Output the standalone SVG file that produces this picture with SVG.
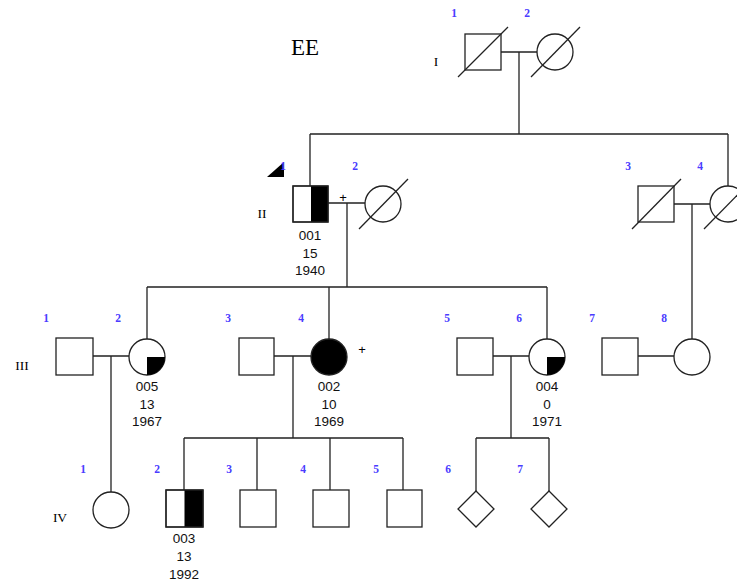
<svg xmlns="http://www.w3.org/2000/svg" width="737" height="587" viewBox="0 0 737 587">
<style>
.s{fill:#fff;stroke:#222;stroke-width:1.3}
.f{fill:#000;stroke:none}
.sl{stroke:#222;stroke-width:1.3;fill:none}
.c{stroke:#222;stroke-width:1.3;fill:none}
.n{font-family:"Liberation Serif",serif;font-size:11.5px;font-weight:bold;fill:#4a3cff;text-anchor:middle}
.g{font-family:"Liberation Serif",serif;font-size:13.5px;fill:#000;text-anchor:middle}
.t{font-family:"Liberation Sans",Arial,sans-serif;font-size:13.5px;fill:#111;text-anchor:middle}
.p{font-family:"Liberation Sans",Arial,sans-serif;font-size:13px;fill:#000;text-anchor:middle}
</style>
<rect width="737" height="587" fill="#fff"/>
<text x="305" y="55" font-family="Liberation Serif,serif" font-size="23" text-anchor="middle">EE</text>
<g id="gen-labels">
<text class="g" x="436" y="66">I</text>
<text class="g" x="262" y="218">II</text>
<text class="g" x="22" y="370">III</text>
<text class="g" x="60" y="522">IV</text>
</g>
<g id="connectors">
<path class="c" d="M500 52H537M519 52V134M310 134H728M310 134V186M728 134V186"/>
<path class="c" d="M328 203H365M347 203V287M147 287H547M147 287V339M329 287V339M547 287V339"/>
<path class="c" d="M674 204H710M692 204V339"/>
<path class="c" d="M93 356H129M111 356V492"/>
<path class="c" d="M274 356H311M293 356V438M184 438H403M184 438V490M257 438V490M330 438V490M403 438V490"/>
<path class="c" d="M493 356H529M511 356V438M476 438H549M476 438V491M549 438V491"/>
<path class="c" d="M638 356H674"/>
</g>
<g id="I-1">
<text class="n" x="454" y="17">1</text>
<rect class="s" x="465" y="34" width="36" height="36"/>
<line class="sl" x1="458" y1="77" x2="508" y2="27"/>
</g>
<g id="I-2">
<text class="n" x="527" y="17">2</text>
<circle class="s" cx="555" cy="52" r="18"/>
<line class="sl" x1="531" y1="77" x2="580" y2="27"/>
</g>
<g id="II-1">
<path class="f" d="M267 177H284V162Z"/>
<text class="n" x="283" y="170">1</text>
<rect class="s" x="293" y="186" width="35" height="36"/>
<rect class="f" x="311" y="186" width="17" height="36"/>
<rect x="293" y="186" width="35" height="36" fill="none" stroke="#222" stroke-width="1.3"/>
<text class="t" x="310" y="240">001</text>
<text class="t" x="310" y="258">15</text>
<text class="t" x="310" y="275">1940</text>
</g>
<g id="II-2">
<text class="n" x="355" y="170">2</text>
<text class="p" x="343" y="202">+</text>
<circle class="s" cx="383" cy="204" r="18"/>
<line class="sl" x1="359" y1="229" x2="408" y2="179"/>
</g>
<g id="II-3">
<text class="n" x="628" y="170">3</text>
<rect class="s" x="638" y="186" width="36" height="36"/>
<line class="sl" x1="632" y1="229" x2="681" y2="179"/>
</g>
<g id="II-4">
<text class="n" x="700" y="170">4</text>
<circle class="s" cx="728" cy="204" r="18"/>
<line class="sl" x1="704" y1="229" x2="753" y2="179"/>
</g>
<g id="III-1">
<text class="n" x="46" y="322">1</text>
<rect class="s" x="56" y="338" width="37" height="37"/>
</g>
<g id="III-2">
<text class="n" x="118" y="322">2</text>
<circle class="s" cx="147" cy="357" r="18"/>
<path class="f" d="M147 357H165A18 18 0 0 1 147 375Z"/>
<text class="t" x="147" y="391">005</text>
<text class="t" x="147" y="409">13</text>
<text class="t" x="147" y="426">1967</text>
</g>
<g id="III-3">
<text class="n" x="228" y="322">3</text>
<rect class="s" x="239" y="338" width="35" height="37"/>
</g>
<g id="III-4">
<text class="n" x="301" y="322">4</text>
<circle cx="329" cy="357" r="18" fill="#000" stroke="#222" stroke-width="1.3"/>
<text class="p" x="362" y="354">+</text>
<text class="t" x="329" y="391">002</text>
<text class="t" x="329" y="409">10</text>
<text class="t" x="329" y="426">1969</text>
</g>
<g id="III-5">
<text class="n" x="447" y="322">5</text>
<rect class="s" x="457" y="338" width="36" height="37"/>
</g>
<g id="III-6">
<text class="n" x="519" y="322">6</text>
<circle class="s" cx="547" cy="357" r="18"/>
<path class="f" d="M547 357H565A18 18 0 0 1 547 375Z"/>
<text class="t" x="547" y="391">004</text>
<text class="t" x="547" y="409">0</text>
<text class="t" x="547" y="426">1971</text>
</g>
<g id="III-7">
<text class="n" x="592" y="322">7</text>
<rect class="s" x="602" y="338" width="36" height="37"/>
</g>
<g id="III-8">
<text class="n" x="664" y="322">8</text>
<circle class="s" cx="692" cy="357" r="18"/>
</g>
<g id="IV-1">
<text class="n" x="83" y="473">1</text>
<circle class="s" cx="111" cy="510" r="18"/>
</g>
<g id="IV-2">
<text class="n" x="157" y="473">2</text>
<rect class="s" x="166" y="490" width="37" height="37"/>
<rect class="f" x="184.5" y="490" width="18.5" height="37"/>
<rect x="166" y="490" width="37" height="37" fill="none" stroke="#222" stroke-width="1.3"/>
<text class="t" x="184" y="543">003</text>
<text class="t" x="184" y="561">13</text>
<text class="t" x="184" y="579">1992</text>
</g>
<g id="IV-3">
<text class="n" x="229" y="473">3</text>
<rect class="s" x="240" y="490" width="36" height="37"/>
</g>
<g id="IV-4">
<text class="n" x="303" y="473">4</text>
<rect class="s" x="313" y="490" width="36" height="37"/>
</g>
<g id="IV-5">
<text class="n" x="376" y="473">5</text>
<rect class="s" x="387" y="490" width="35" height="37"/>
</g>
<g id="IV-6">
<text class="n" x="448" y="473">6</text>
<path class="s" d="M476 491L494 509L476 527L458 509Z"/>
</g>
<g id="IV-7">
<text class="n" x="520" y="473">7</text>
<path class="s" d="M549 491L567 509L549 527L531 509Z"/>
</g>
</svg>
